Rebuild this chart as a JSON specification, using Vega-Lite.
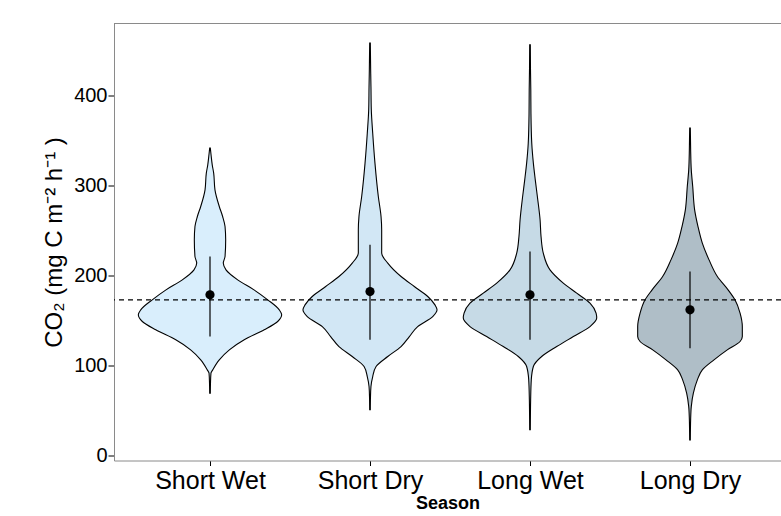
{
  "$schema": "https://vega.github.io/schema/vega-lite/v6.json",
  "autosize": {"type": "none"},
  "width": 667,
  "height": 437,
  "padding": {"left": 114, "top": 23.5, "right": 0, "bottom": 55.5},
  "background": "white",
  "config": {
    "font": "Liberation Sans",
    "view": {"stroke": null}
  },
  "datasets": {
    "violins": [
      {"season": "Short Wet", "co2": 69.3, "lo": 0.998, "hi": 1.002},
      {"season": "Short Wet", "co2": 80, "lo": 0.997, "hi": 1.003},
      {"season": "Short Wet", "co2": 91.6, "lo": 0.994, "hi": 1.006},
      {"season": "Short Wet", "co2": 95.2, "lo": 0.983, "hi": 1.017},
      {"season": "Short Wet", "co2": 106.3, "lo": 0.942, "hi": 1.058},
      {"season": "Short Wet", "co2": 117.4, "lo": 0.879, "hi": 1.121},
      {"season": "Short Wet", "co2": 128.6, "lo": 0.786, "hi": 1.214},
      {"season": "Short Wet", "co2": 139.7, "lo": 0.661, "hi": 1.339},
      {"season": "Short Wet", "co2": 148.9, "lo": 0.577, "hi": 1.423},
      {"season": "Short Wet", "co2": 156.3, "lo": 0.552, "hi": 1.448},
      {"season": "Short Wet", "co2": 161.9, "lo": 0.567, "hi": 1.433},
      {"season": "Short Wet", "co2": 173, "lo": 0.639, "hi": 1.361},
      {"season": "Short Wet", "co2": 184.1, "lo": 0.725, "hi": 1.275},
      {"season": "Short Wet", "co2": 195.2, "lo": 0.827, "hi": 1.173},
      {"season": "Short Wet", "co2": 206.3, "lo": 0.9, "hi": 1.1},
      {"season": "Short Wet", "co2": 213.8, "lo": 0.917, "hi": 1.083},
      {"season": "Short Wet", "co2": 221.1, "lo": 0.906, "hi": 1.094},
      {"season": "Short Wet", "co2": 239.7, "lo": 0.902, "hi": 1.098},
      {"season": "Short Wet", "co2": 254.4, "lo": 0.906, "hi": 1.094},
      {"season": "Short Wet", "co2": 265.6, "lo": 0.921, "hi": 1.079},
      {"season": "Short Wet", "co2": 276.7, "lo": 0.942, "hi": 1.058},
      {"season": "Short Wet", "co2": 295.2, "lo": 0.969, "hi": 1.031},
      {"season": "Short Wet", "co2": 313.8, "lo": 0.977, "hi": 1.023},
      {"season": "Short Wet", "co2": 323, "lo": 0.986, "hi": 1.014},
      {"season": "Short Wet", "co2": 335, "lo": 0.994, "hi": 1.006},
      {"season": "Short Wet", "co2": 341.6, "lo": 0.998, "hi": 1.002},

      {"season": "Short Dry", "co2": 50.8, "lo": 1.998, "hi": 2.002},
      {"season": "Short Dry", "co2": 65, "lo": 1.997, "hi": 2.003},
      {"season": "Short Dry", "co2": 76.7, "lo": 1.994, "hi": 2.006},
      {"season": "Short Dry", "co2": 87.8, "lo": 1.983, "hi": 2.017},
      {"season": "Short Dry", "co2": 98.9, "lo": 1.963, "hi": 2.038},
      {"season": "Short Dry", "co2": 110, "lo": 1.889, "hi": 2.111},
      {"season": "Short Dry", "co2": 121.1, "lo": 1.806, "hi": 2.194},
      {"season": "Short Dry", "co2": 132.2, "lo": 1.754, "hi": 2.246},
      {"season": "Short Dry", "co2": 143.3, "lo": 1.702, "hi": 2.298},
      {"season": "Short Dry", "co2": 154.4, "lo": 1.608, "hi": 2.392},
      {"season": "Short Dry", "co2": 161.9, "lo": 1.581, "hi": 2.419},
      {"season": "Short Dry", "co2": 167.4, "lo": 1.594, "hi": 2.406},
      {"season": "Short Dry", "co2": 176.7, "lo": 1.639, "hi": 2.361},
      {"season": "Short Dry", "co2": 187.8, "lo": 1.723, "hi": 2.277},
      {"season": "Short Dry", "co2": 198.9, "lo": 1.806, "hi": 2.194},
      {"season": "Short Dry", "co2": 213.8, "lo": 1.889, "hi": 2.111},
      {"season": "Short Dry", "co2": 224.9, "lo": 1.927, "hi": 2.073},
      {"season": "Short Dry", "co2": 250.8, "lo": 1.927, "hi": 2.073},
      {"season": "Short Dry", "co2": 265.6, "lo": 1.931, "hi": 2.069},
      {"season": "Short Dry", "co2": 287.8, "lo": 1.948, "hi": 2.052},
      {"season": "Short Dry", "co2": 324.9, "lo": 1.969, "hi": 2.031},
      {"season": "Short Dry", "co2": 358, "lo": 1.983, "hi": 2.017},
      {"season": "Short Dry", "co2": 385, "lo": 1.992, "hi": 2.008},
      {"season": "Short Dry", "co2": 410, "lo": 1.994, "hi": 2.006},
      {"season": "Short Dry", "co2": 430, "lo": 1.996, "hi": 2.004},
      {"season": "Short Dry", "co2": 458.2, "lo": 1.998, "hi": 2.002},

      {"season": "Long Wet", "co2": 28.6, "lo": 2.998, "hi": 3.002},
      {"season": "Long Wet", "co2": 61.9, "lo": 2.996, "hi": 3.004},
      {"season": "Long Wet", "co2": 84.1, "lo": 2.992, "hi": 3.008},
      {"season": "Long Wet", "co2": 98.9, "lo": 2.979, "hi": 3.021},
      {"season": "Long Wet", "co2": 110, "lo": 2.927, "hi": 3.073},
      {"season": "Long Wet", "co2": 121.1, "lo": 2.833, "hi": 3.167},
      {"season": "Long Wet", "co2": 132.2, "lo": 2.729, "hi": 3.271},
      {"season": "Long Wet", "co2": 143.3, "lo": 2.625, "hi": 3.375},
      {"season": "Long Wet", "co2": 152.7, "lo": 2.583, "hi": 3.417},
      {"season": "Long Wet", "co2": 158.2, "lo": 2.588, "hi": 3.413},
      {"season": "Long Wet", "co2": 169.3, "lo": 2.625, "hi": 3.375},
      {"season": "Long Wet", "co2": 180.4, "lo": 2.708, "hi": 3.292},
      {"season": "Long Wet", "co2": 191.6, "lo": 2.792, "hi": 3.208},
      {"season": "Long Wet", "co2": 206.3, "lo": 2.875, "hi": 3.125},
      {"season": "Long Wet", "co2": 224.9, "lo": 2.917, "hi": 3.083},
      {"season": "Long Wet", "co2": 243.3, "lo": 2.931, "hi": 3.069},
      {"season": "Long Wet", "co2": 261.9, "lo": 2.938, "hi": 3.063},
      {"season": "Long Wet", "co2": 287.8, "lo": 2.954, "hi": 3.046},
      {"season": "Long Wet", "co2": 306.3, "lo": 2.967, "hi": 3.033},
      {"season": "Long Wet", "co2": 324.9, "lo": 2.979, "hi": 3.021},
      {"season": "Long Wet", "co2": 347, "lo": 2.989, "hi": 3.011},
      {"season": "Long Wet", "co2": 380, "lo": 2.994, "hi": 3.006},
      {"season": "Long Wet", "co2": 406, "lo": 2.995, "hi": 3.005},
      {"season": "Long Wet", "co2": 430, "lo": 2.997, "hi": 3.003},
      {"season": "Long Wet", "co2": 456.3, "lo": 2.998, "hi": 3.002},

      {"season": "Long Dry", "co2": 17.4, "lo": 3.998, "hi": 4.002},
      {"season": "Long Dry", "co2": 40, "lo": 3.996, "hi": 4.004},
      {"season": "Long Dry", "co2": 54.4, "lo": 3.992, "hi": 4.008},
      {"season": "Long Dry", "co2": 69.3, "lo": 3.979, "hi": 4.021},
      {"season": "Long Dry", "co2": 84.1, "lo": 3.954, "hi": 4.046},
      {"season": "Long Dry", "co2": 95.2, "lo": 3.923, "hi": 4.077},
      {"season": "Long Dry", "co2": 106.3, "lo": 3.85, "hi": 4.15},
      {"season": "Long Dry", "co2": 117.4, "lo": 3.767, "hi": 4.233},
      {"season": "Long Dry", "co2": 126.7, "lo": 3.688, "hi": 4.313},
      {"season": "Long Dry", "co2": 132.2, "lo": 3.673, "hi": 4.327},
      {"season": "Long Dry", "co2": 143.3, "lo": 3.673, "hi": 4.327},
      {"season": "Long Dry", "co2": 158.2, "lo": 3.688, "hi": 4.313},
      {"season": "Long Dry", "co2": 173, "lo": 3.719, "hi": 4.281},
      {"season": "Long Dry", "co2": 184.1, "lo": 3.763, "hi": 4.238},
      {"season": "Long Dry", "co2": 198.9, "lo": 3.829, "hi": 4.171},
      {"season": "Long Dry", "co2": 217.4, "lo": 3.881, "hi": 4.119},
      {"season": "Long Dry", "co2": 236, "lo": 3.923, "hi": 4.077},
      {"season": "Long Dry", "co2": 254.4, "lo": 3.95, "hi": 4.05},
      {"season": "Long Dry", "co2": 273, "lo": 3.971, "hi": 4.029},
      {"season": "Long Dry", "co2": 298.9, "lo": 3.983, "hi": 4.017},
      {"season": "Long Dry", "co2": 317.4, "lo": 3.992, "hi": 4.008},
      {"season": "Long Dry", "co2": 340, "lo": 3.996, "hi": 4.004},
      {"season": "Long Dry", "co2": 363.8, "lo": 3.998, "hi": 4.002}
    ],
    "means": [
      {"season": "Short Wet", "idx": 1, "mean": 178.6, "low": 132.2, "high": 221.1},
      {"season": "Short Dry", "idx": 2, "mean": 182.2, "low": 128.6, "high": 234.1},
      {"season": "Long Wet", "idx": 3, "mean": 178.6, "low": 128.6, "high": 226.7},
      {"season": "Long Dry", "idx": 4, "mean": 161.9, "low": 119.3, "high": 204.4}
    ],
    "reference": [
      {"level": 173}
    ]
  },
  "layer": [
    {
      "data": {"name": "violins"},
      "mark": {"type": "area", "orient": "horizontal", "stroke": "black", "strokeWidth": 1.1, "fillOpacity": 1, "interpolate": "monotone"},
      "encoding": {
        "y": {
          "field": "co2", "type": "quantitative",
          "scale": {"domain": [-5.5, 480], "nice": false, "zero": false},
          "title": "CO₂ (mg C m⁻² h⁻¹ )",
          "axis": {
            "values": [0, 100, 200, 300, 400],
            "grid": false,
            "labelFontSize": 20,
            "labelColor": "black",
            "labelPadding": 1,
            "tickSize": 6,
            "tickColor": "black",
            "domainColor": "#8a8a8a",
            "titleFontSize": 24,
            "titleFontWeight": "normal",
            "titleColor": "black",
            "titlePadding": 7
          }
        },
        "x": {
          "field": "lo", "type": "quantitative",
          "scale": {"domain": [0.4, 4.56875], "nice": false, "zero": false},
          "title": "Season",
          "axis": {
            "values": [1, 2, 3, 4],
            "labelExpr": "datum.value == 1 ? 'Short Wet' : datum.value == 2 ? 'Short Dry' : datum.value == 3 ? 'Long Wet' : 'Long Dry'",
            "grid": false,
            "labelFontSize": 25,
            "labelColor": "black",
            "labelPadding": 3,
            "labelFlush": false,
            "labelOverlap": false,
            "labelBound": false,
            "tickSize": 5,
            "tickColor": "black",
            "domainColor": "#8a8a8a",
            "titleFontSize": 18,
            "titleFontWeight": "bold",
            "titleColor": "black",
            "titlePadding": 1
          }
        },
        "x2": {"field": "hi"},
        "color": {
          "field": "season", "type": "nominal",
          "scale": {"domain": ["Short Wet", "Short Dry", "Long Wet", "Long Dry"], "range": ["#d9eefc", "#d2e7f5", "#c6dae6", "#afbec7"]},
          "legend": null
        }
      }
    },
    {
      "data": {"name": "reference"},
      "mark": {"type": "rule", "stroke": "black", "strokeWidth": 1.1, "strokeDash": [5, 4]},
      "encoding": {
        "y": {"field": "level", "type": "quantitative", "title": "CO₂ (mg C m⁻² h⁻¹ )"}
      }
    },
    {
      "data": {"name": "reference"},
      "mark": {"type": "rule", "stroke": "#8a8a8a", "strokeWidth": 1},
      "encoding": {
        "y": {"datum": 480}
      }
    },
    {
      "data": {"name": "means"},
      "mark": {"type": "rule", "stroke": "black", "strokeWidth": 1.2},
      "encoding": {
        "x": {"field": "idx", "type": "quantitative", "title": "Season"},
        "y": {"field": "low", "type": "quantitative", "title": "CO₂ (mg C m⁻² h⁻¹ )"},
        "y2": {"field": "high"}
      }
    },
    {
      "data": {"name": "means"},
      "mark": {"type": "point", "filled": true, "color": "black", "opacity": 1, "size": 85},
      "encoding": {
        "x": {"field": "idx", "type": "quantitative", "title": "Season"},
        "y": {"field": "mean", "type": "quantitative", "title": "CO₂ (mg C m⁻² h⁻¹ )"}
      }
    }
  ]
}
